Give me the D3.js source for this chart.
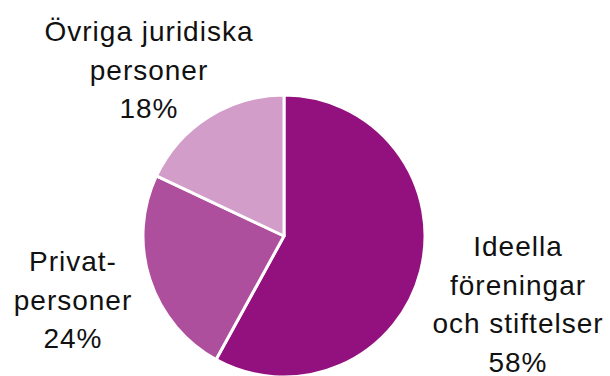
<!DOCTYPE html>
<html>
<head>
<meta charset="utf-8">
<script src="https://cdn.jsdelivr.net/npm/d3@7"></script>
<style>
  body { margin: 0; background: #fff; }
  text { font-family: "Liberation Sans", Arial, Helvetica, sans-serif; fill: #111; }
</style>
</head>
<body>
<div id="chart"></div>
<script>
var categories = ["Ideella föreningar och stiftelser", "Privatpersoner", "Övriga juridiska personer"];
var shares = [58, 24, 18];
var labelLines = [
    ["Ideella", "föreningar", "och stiftelser", "58%"],
    ["Privat-", "personer", "24%"],
    ["Övriga juridiska", "personer", "18%"]
];
var colors = ["#93117e", "#ad4f9c", "#d39dca"];

var width = 610, height = 376;
var cx = 284, cy = 236, radius = 141;
var lineHeight = 38.5;
// first-baseline anchor for each label block
var labelPos = [[518, 256], [73, 271], [149, 41]];

var svg = d3.select("#chart").append("svg")
    .attr("width", width)
    .attr("height", height);

var g = svg.append("g")
    .attr("transform", "translate(" + cx + "," + cy + ")");

var pie = d3.pie().sort(null).value(d => d);
var arc = d3.arc().innerRadius(0).outerRadius(radius);

g.selectAll(".slice")
    .data(pie(shares))
    .enter()
    .append("path")
    .attr("class", "slice")
    .attr("d", arc)
    .attr("fill", (d, i) => colors[i])
    .attr("stroke", "#fff")
    .attr("stroke-width", 3)
    .attr("stroke-linejoin", "round");

var labels = svg.selectAll(".label")
    .data(labelLines)
    .enter()
    .append("text")
    .attr("class", "label")
    .attr("text-anchor", "middle")
    .style("font-size", "28px")
    .style("letter-spacing", "1px");

labels.each(function(lines, i) {
    d3.select(this).selectAll("tspan")
        .data(lines)
        .enter()
        .append("tspan")
        .attr("x", labelPos[i][0])
        .attr("y", (d, j) => labelPos[i][1] + j * lineHeight)
        .text(d => d);
});
</script>
</body>
</html>
